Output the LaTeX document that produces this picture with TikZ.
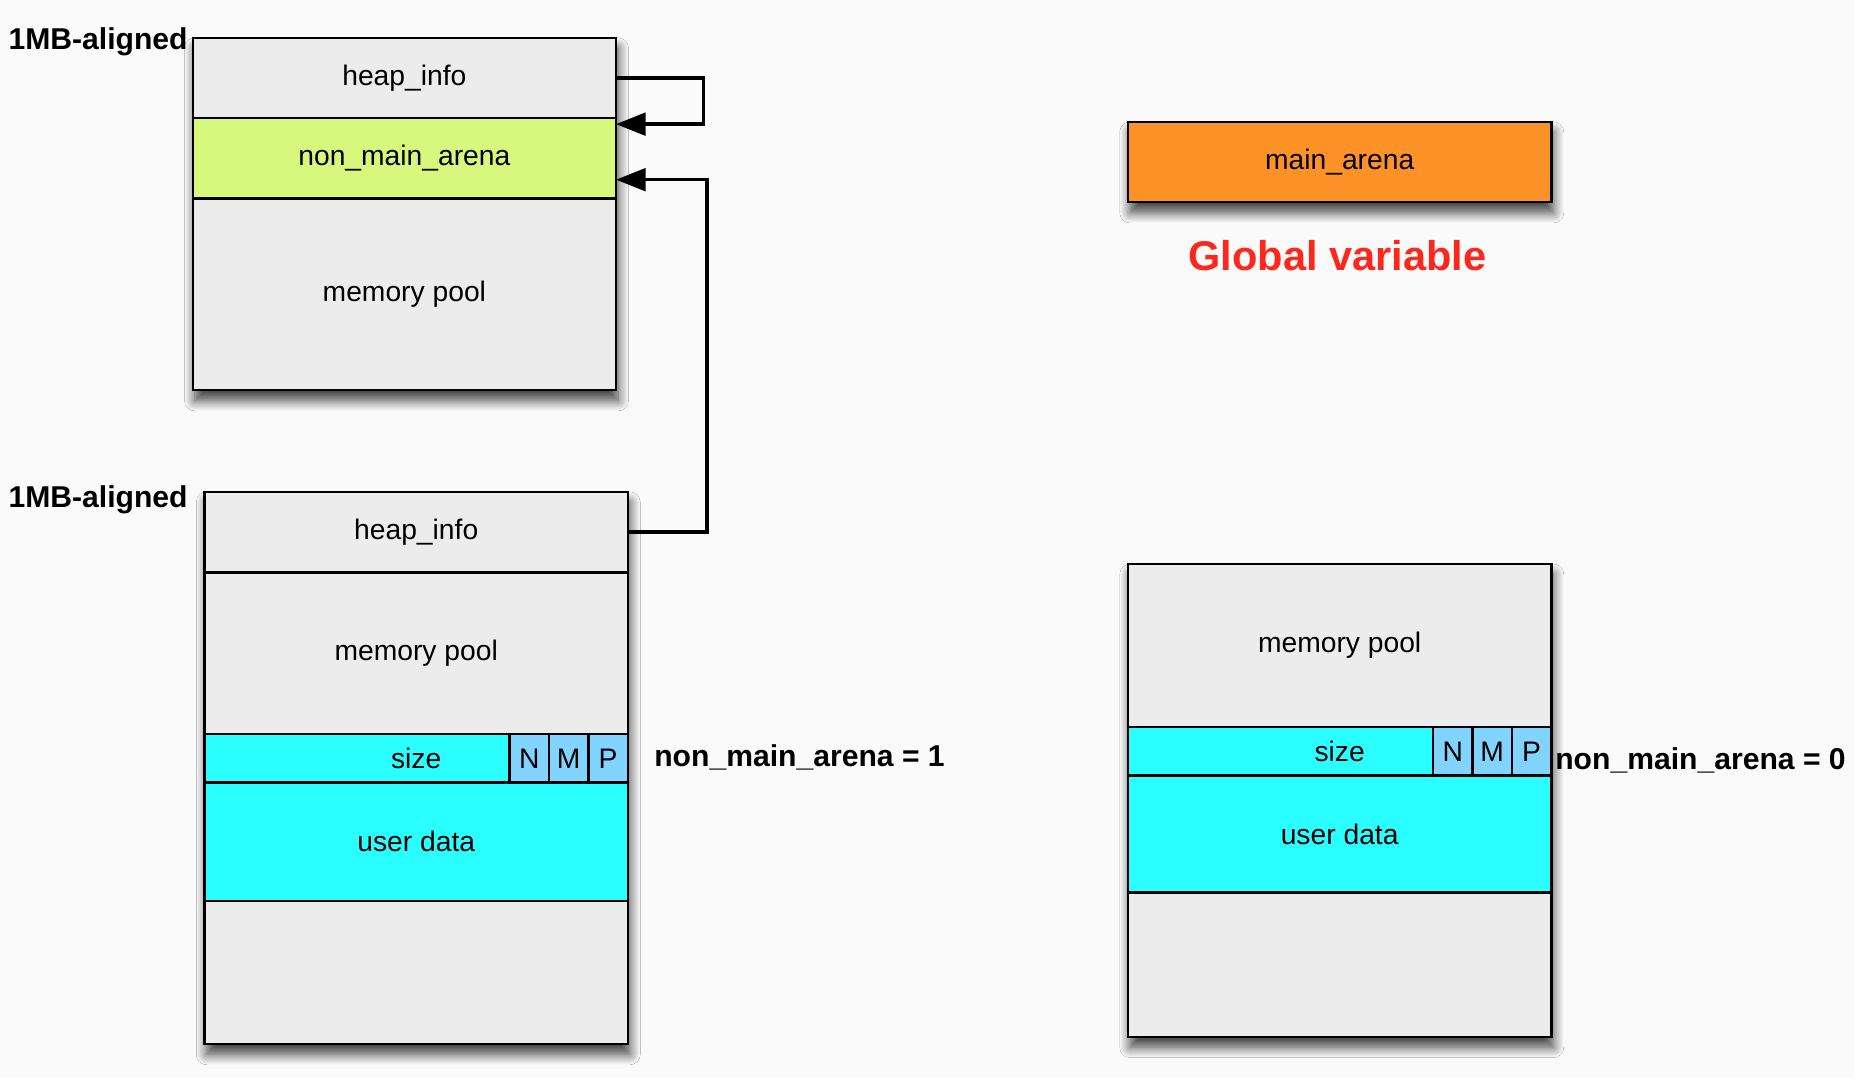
\documentclass[tikz,border=0pt]{standalone}
\usepackage{fontspec}
\setmainfont{Liberation Sans}
\usetikzlibrary{positioning,arrows.meta,shadows.blur}

\definecolor{PageColor}{RGB}{250,250,250}
\definecolor{HeapColor}{RGB}{236,236,236}
\definecolor{ArenaColor}{RGB}{214,249,125}
\definecolor{MainArenaColor}{RGB}{254,146,40}
\definecolor{DataColor}{RGB}{43,254,254}
\definecolor{FlagColor}{RGB}{128,212,255}
\definecolor{NoteColor}{RGB}{252,40,30}

\pgfdeclarelayer{bg}
\pgfsetlayers{bg,main}

\tikzset{
	memrow/.style={draw, line width=1.2pt, fill=HeapColor, minimum width=7.16cm, inner sep=0pt, outer sep=0pt, font=\fontsize{13.6}{16}\selectfont},
	flag/.style={memrow, fill=FlagColor, minimum width=0.667cm, minimum height=0.82cm},
	boxshadow/.style={blur shadow={shadow xshift=1pt, shadow yshift=-5pt, shadow blur radius=5pt, shadow blur steps=12, shadow opacity=75}},
	tag/.style={font=\fontsize{14.5}{17}\bfseries\selectfont, inner sep=0pt},
	ptr/.style={line width=1.7pt, -{Triangle[length=0.5cm,width=0.38cm]}},
}

\begin{document}
\begin{tikzpicture}[x=0.02cm, y=-0.02cm]
	\useasboundingbox (0,0) rectangle (1568,912);

	% non-main heap, top
	\node [memrow, minimum height=1.36cm] (hi1) at (342,66) {heap\_info};
	\node [memrow, minimum height=1.36cm, fill=ArenaColor, below=0pt of hi1] (nma) {non\_main\_arena};
	\node [memrow, minimum height=3.24cm, below=0pt of nma] (mp1) {memory pool};

	% non-main heap, bottom
	\node [memrow, minimum height=1.36cm] (hi2) at (352,450) {heap\_info};
	\node [memrow, minimum height=2.74cm, below=0pt of hi2] (mp2) {memory pool};
	\node [memrow, minimum height=0.82cm, fill=DataColor, below=0pt of mp2] (sz2) {size};
	\node [flag, anchor=east] (fp2) at (sz2.east) {P};
	\node [flag, left=0pt of fp2] (fm2) {M};
	\node [flag, left=0pt of fm2] (fn2) {N};
	\node [memrow, minimum height=2cm, fill=DataColor, below=0pt of sz2] (ud2) {user data};
	\node [memrow, minimum height=2.42cm, below=0pt of ud2] (bt2) {};

	% main arena
	\node [memrow, minimum height=1.36cm, fill=MainArenaColor] (ma) at (1133,137) {main\_arena};
	\node [font=\fontsize{20}{24}\bfseries\selectfont, text=NoteColor] (gv) at (1131,216) {Global variable};

	% main heap
	\node [memrow, minimum height=2.76cm] (mp3) at (1133,546) {memory pool};
	\node [memrow, minimum height=0.82cm, fill=DataColor, below=0pt of mp3] (sz3) {size};
	\node [flag, anchor=east] (fp3) at (sz3.east) {P};
	\node [flag, left=0pt of fp3] (fm3) {M};
	\node [flag, left=0pt of fm3] (fn3) {N};
	\node [memrow, minimum height=1.98cm, fill=DataColor, below=0pt of sz3] (ud3) {user data};
	\node [memrow, minimum height=2.44cm, below=0pt of ud3] (bt3) {};

	% labels
	\node [tag, anchor=base east] (al1) at (159,42) {1MB-aligned};
	\node [tag, anchor=base east] (al2) at (159,429) {1MB-aligned};
	\node [tag, anchor=base west] (nm1) at (553,648) {non\_main\_arena = 1};
	\node [tag, anchor=base west] (nm0) at (1315,651) {non\_main\_arena = 0};

	% pointers
	\draw [ptr] (hi1.east) -- ++(74,0) |- ([yshift=-0.1cm]nma.north east);
	\draw [ptr] (hi2.east) -- ++(67,0) |- ([yshift=0.32cm]nma.south east);

	\begin{pgfonlayer}{bg}
		\fill [PageColor] (0,0) rectangle (1568,912);
		\path [boxshadow] (hi1.north west) rectangle (mp1.south east);
		\path [boxshadow] (hi2.north west) rectangle (bt2.south east);
		\path [boxshadow] (mp3.north west) rectangle (bt3.south east);
		\path [boxshadow] (ma.north west) rectangle (ma.south east);
	\end{pgfonlayer}
\end{tikzpicture}
\end{document}
